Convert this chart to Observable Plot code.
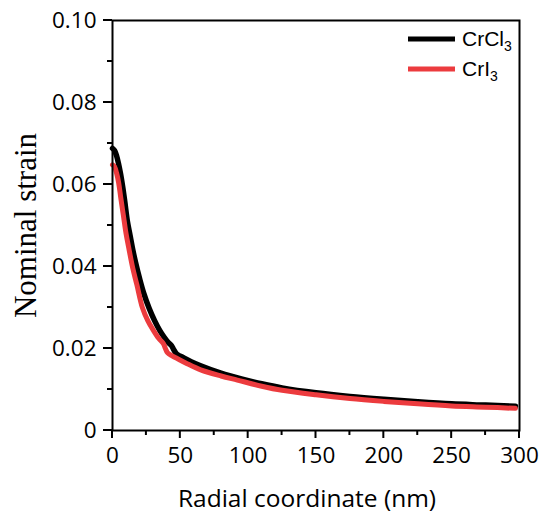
<!DOCTYPE html>
<html>
<head>
<meta charset="utf-8">
<script src="https://cdn.jsdelivr.net/npm/d3@7"></script>
<script src="https://cdn.jsdelivr.net/npm/@observablehq/plot@0.6"></script>
<style>
  html, body { margin: 0; padding: 0; background: #fff; }
  #chart svg { display: block; }
</style>
</head>
<body>
<div id="chart"></div>
<script>
// ---- data ----
const crcl3X = [0, 1.5, 3, 4.5, 6, 7.5, 9, 11, 13, 15, 17, 20, 23, 27, 31, 35, 38, 41, 43.5, 45, 46.5, 48, 52, 58, 65, 80, 95, 110, 125, 150, 175, 200, 225, 250, 275, 297];
const crcl3Y = [0.0688, 0.0683, 0.0670, 0.0650, 0.0625, 0.0595, 0.0560, 0.0510, 0.0475, 0.0440, 0.0410, 0.0370, 0.0335, 0.0298, 0.0268, 0.0243, 0.0228, 0.0215, 0.0207, 0.0198, 0.0190, 0.0185, 0.0178, 0.0168, 0.0158, 0.0140, 0.0126, 0.0114, 0.0104, 0.0092, 0.0083, 0.0076, 0.0070, 0.0065, 0.0062, 0.0059];

const cri3X = [0, 1.5, 3, 4.5, 6, 8, 10, 12, 15, 18, 22, 26, 30, 34, 37.5, 39, 40.5, 44, 48, 55, 65, 80, 92, 110, 125, 150, 175, 200, 225, 250, 275, 297];
const cri3Y = [0.0648, 0.0643, 0.0628, 0.0605, 0.0570, 0.0525, 0.0480, 0.0445, 0.0395, 0.0355, 0.0300, 0.0268, 0.0245, 0.0225, 0.0212, 0.0200, 0.0190, 0.0182, 0.0175, 0.0163, 0.0148, 0.0133, 0.0123, 0.0108, 0.0098, 0.0087, 0.0078, 0.0071, 0.0065, 0.0060, 0.0057, 0.0054];

const seriesNames = ["CrCl3", "CrI3"];
const seriesColors = ["#000000", "#ec3b3e"];

const xTicks = [0, 50, 100, 150, 200, 250, 300];
const xMinor = [25, 75, 125, 175, 225, 275];
const yTicks = [0, 0.02, 0.04, 0.06, 0.08, 0.10];
const yMinor = [0.01, 0.03, 0.05, 0.07, 0.09];

const xLabel = "Radial coordinate (nm)";
const yLabel = "Nominal strain";

// ---- build table ----
const crcl3 = crcl3X.map((x, i) => ({x, y: crcl3Y[i], s: seriesNames[0]}));
const cri3 = cri3X.map((x, i) => ({x, y: cri3Y[i], s: seriesNames[1]}));

const tickFont = "Open Sans, sans-serif";

const chart = Plot.plot({
  width: 548,
  height: 516,
  marginLeft: 112,
  marginRight: 29,
  marginTop: 20,
  marginBottom: 86,
  style: {fontFamily: tickFont, fontSize: "22.5px", color: "#000", background: "#fff"},
  x: {domain: [0, 300]},
  y: {domain: [0, 0.1]},
  marks: [
    Plot.axisX({ticks: xTicks, tickSize: 0, tickPadding: 17, label: null, fontSize: 22.5}),
    Plot.axisY({ticks: yTicks, tickSize: 0, tickPadding: 16, label: null, fontSize: 22.5,
      tickFormat: d => d === 0 ? "0" : d.toFixed(2)}),
    Plot.line(crcl3, {x: "x", y: "y", stroke: seriesColors[0], strokeWidth: 5.5, curve: "catmull-rom"}),
    Plot.line(cri3, {x: "x", y: "y", stroke: seriesColors[1], strokeWidth: 5, curve: "catmull-rom"}),
    Plot.frame({stroke: "#000", strokeWidth: 2}),
    Plot.text([xLabel], {frameAnchor: "bottom", dx: -9, dy: 76, lineAnchor: "bottom",
      fontSize: 24.5, fontFamily: tickFont}),
    Plot.text([yLabel], {frameAnchor: "left", rotate: -90, dx: -77, lineAnchor: "bottom",
      textAnchor: "middle", fontSize: 31, fontFamily: "Liberation Serif, Times New Roman, serif"})
  ]
});

document.getElementById("chart").appendChild(chart);

const svg = d3.select(chart);
const xs = chart.scale("x"), ys = chart.scale("y");
const x0 = xs.apply(0), y0 = ys.apply(0);

// ---- tick marks through the plot's scales ----
const tg = svg.append("g").attr("stroke", "#000").attr("stroke-width", 2);
xTicks.forEach(v => tg.append("line").attr("x1", xs.apply(v)).attr("x2", xs.apply(v)).attr("y1", y0).attr("y2", y0 + 8));
xMinor.forEach(v => tg.append("line").attr("x1", xs.apply(v)).attr("x2", xs.apply(v)).attr("y1", y0).attr("y2", y0 + 5));
yTicks.forEach(v => tg.append("line").attr("y1", ys.apply(v)).attr("y2", ys.apply(v)).attr("x1", x0).attr("x2", x0 - 9));
yMinor.forEach(v => tg.append("line").attr("y1", ys.apply(v)).attr("y2", ys.apply(v)).attr("x1", x0).attr("x2", x0 - 5));

// ---- legend (top-right inside frame) ----
const lg = svg.append("g").attr("font-family", "Liberation Sans, Arial, sans-serif").attr("text-anchor", "start");
const legendRows = [
  {name: "CrCl", sub: "3", color: seriesColors[0], y: 39},
  {name: "CrI", sub: "3", color: seriesColors[1], y: 69}
];
legendRows.forEach(r => {
  lg.append("line").attr("x1", 408).attr("x2", 455).attr("y1", r.y).attr("y2", r.y)
    .attr("stroke", r.color).attr("stroke-width", 5);
  const t = lg.append("text").attr("x", 462).attr("y", r.y + 7).attr("font-size", 21).attr("fill", "#000");
  t.append("tspan").text(r.name);
  t.append("tspan").attr("font-size", 14).attr("dy", 5).text(r.sub);
});
</script>
</body>
</html>
